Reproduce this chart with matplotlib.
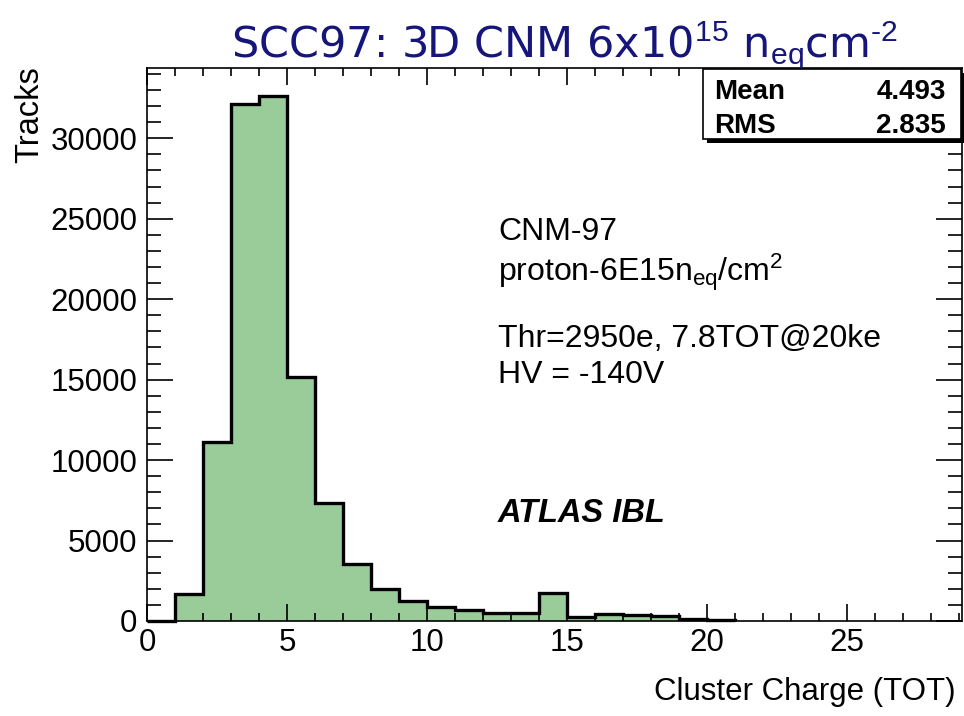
import numpy as np
import matplotlib
matplotlib.use("Agg")
import matplotlib.pyplot as plt
from matplotlib.patches import Rectangle
from matplotlib.ticker import MultipleLocator

# Cluster charge histogram, one bin per TOT unit
tot_edges = list(range(22))
tracks = [0, 1680, 11120, 32110, 32630, 15150, 7340, 3570, 2000, 1220, 870,
          670, 470, 470, 1710, 250, 450, 370, 300, 100, 60]
stat_names = ["Mean", "RMS"]
stat_values = ["4.493", "2.835"]
info_lines = ["CNM-97", r"proton-6E15n$_{\rm eq}$/cm$^{2}$",
              "Thr=2950e, 7.8TOT@20ke", "HV = -140V"]

plt.rcParams["font.family"] = "Liberation Sans"
plt.rcParams["mathtext.fontset"] = "custom"
plt.rcParams["mathtext.rm"] = "Liberation Sans"
plt.rcParams["mathtext.it"] = "Liberation Sans:italic"
plt.rcParams["mathtext.bf"] = "Liberation Sans:bold"

W, H = 964, 716
def fx(x):
    return x / W
def fy(y):
    return 1 - y / H

fig = plt.figure(figsize=(9.64, 7.16), dpi=100)
ax = fig.add_axes([fx(147), fy(621), (962 - 147) / W, (621 - 68) / H])

ax.stairs(tracks, tot_edges, fill=True, color="#99cc99", linewidth=0)
ax.stairs(tracks, tot_edges, baseline=0, color="black", linewidth=2.4,
          clip_on=False, zorder=3)

ax.set_xlim(0, 29.1)
ax.set_ylim(0, 34370)
ax.xaxis.set_major_locator(MultipleLocator(5))
ax.xaxis.set_minor_locator(MultipleLocator(1))
ax.yaxis.set_major_locator(MultipleLocator(5000))
ax.yaxis.set_minor_locator(MultipleLocator(1000))
ax.tick_params(axis="x", which="both", direction="in", top=True, width=1.2,
               labelsize=22.5, pad=5)
ax.tick_params(axis="x", which="major", length=12)
ax.tick_params(axis="x", which="minor", length=6)
ax.tick_params(axis="y", which="both", direction="in", right=True, width=1.2,
               labelsize=22.5, pad=7)
ax.tick_params(axis="y", which="major", length=19)
ax.tick_params(axis="y", which="minor", length=10)
for sp in ax.spines.values():
    sp.set_linewidth(1.2)

fig.text(fx(30), fy(66), "Tracks", rotation=90, ha="center", va="top",
         fontsize=23.5)
fig.text(fx(956), fy(692), "Cluster Charge (TOT)", ha="right", va="center",
         fontsize=22.5)

# statistics box with drop shadow
bx0, bx1, by0, by1 = 703, 961, 69, 139
fig.patches.append(Rectangle((fx(bx0 + 4), fy(by1 + 4)), (bx1 - bx0) / W,
                             (by1 - by0) / H, transform=fig.transFigure,
                             facecolor="black", edgecolor="none", zorder=5))
fig.patches.append(Rectangle((fx(bx0), fy(by1)), (bx1 - bx0) / W,
                             (by1 - by0) / H, transform=fig.transFigure,
                             facecolor="white", edgecolor="black",
                             linewidth=1.2, zorder=6))
for i, (name, val) in enumerate(zip(stat_names, stat_values)):
    yb = 99 + i * 34
    fig.text(fx(714), fy(yb), name, ha="left", va="baseline", fontsize=20,
             fontweight="bold", zorder=7)
    fig.text(fx(946), fy(yb), val, ha="right", va="baseline", fontsize=20,
             fontweight="bold", zorder=7)

for line, yb in zip(info_lines, [240, 281, 347, 383]):
    fig.text(fx(498), fy(yb), line, ha="left", va="baseline", fontsize=23)
fig.text(fx(498), fy(522), "ATLAS IBL", ha="left", va="baseline",
         fontsize=23.5, fontweight="bold", style="italic")

fig.text(fx(565), fy(57), r"SCC97: 3D CNM 6x10$^{15}$ n$_{\rm eq}$cm$^{\text{-}2}$",
         ha="center", va="baseline", fontsize=31, color="#16167a",
         family="DejaVu Sans")

fig.savefig("out.png", dpi=100)
